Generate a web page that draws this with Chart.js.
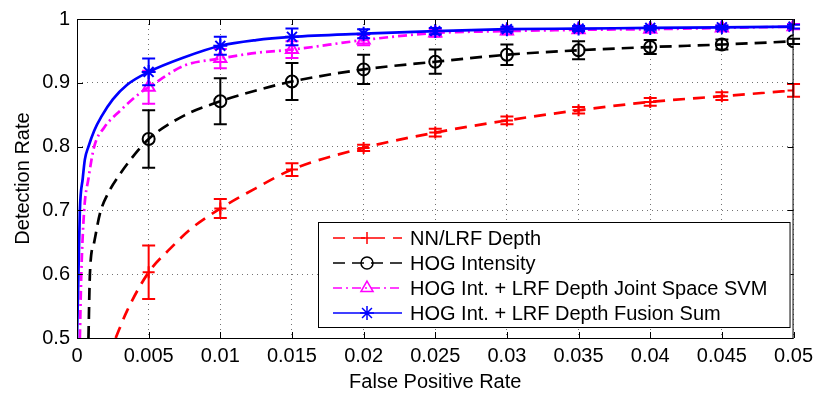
<!DOCTYPE html>
<html>
<head>
<meta charset="utf-8">
<script src="https://cdn.jsdelivr.net/npm/chart.js@4.4.0/dist/chart.umd.min.js"></script>
<style>
    html, body { margin: 0; padding: 0; background: #fff; }
    #wrap { width: 819px; height: 395px; }
</style>
</head>
<body>
<div id="wrap"><canvas id="rocChart"></canvas></div>
<script>
// axis ticks
var fprTicks = [0, 0.005, 0.01, 0.015, 0.02, 0.025, 0.03, 0.035, 0.04, 0.045, 0.05];
var fprTickLabels = ['0', '0.005', '0.01', '0.015', '0.02', '0.025', '0.03', '0.035', '0.04', '0.045', '0.05'];
var rateTicks = [0.5, 0.6, 0.7, 0.8, 0.9, 1];
var rateTickLabels = ['0.5', '0.6', '0.7', '0.8', '0.9', '1'];

var seriesNames = [
    'NN/LRF Depth',
    'HOG Intensity',
    'HOG Int. + LRF Depth Joint Space SVM',
    'HOG Int. + LRF Depth Fusion Sum'
];

// mean detection rate and error at the marked false positive rates
var markerFpr = [0.005, 0.01, 0.015, 0.02, 0.025, 0.03, 0.035, 0.04, 0.045, 0.05];
var nnMean  = [0.603, 0.703, 0.764, 0.798, 0.822, 0.841, 0.857, 0.870, 0.879, 0.888];
var nnErr   = [0.042, 0.015, 0.010, 0.005, 0.006, 0.006, 0.005, 0.006, 0.006, 0.010];
var hogMean = [0.812, 0.871, 0.902, 0.921, 0.933, 0.944, 0.951, 0.956, 0.960, 0.965];
var hogErr  = [0.045, 0.036, 0.029, 0.023, 0.019, 0.016, 0.014, 0.011, 0.008, 0.004];
var svmMean = [0.893, 0.938, 0.952, 0.967, 0.978, 0.981, 0.983, 0.984, 0.986, 0.988];
var svmErr  = [0.026, 0.015, 0.013, 0.008, 0.006, 0.005, 0.004, 0.004, 0.004, 0.004];
var sumMean = [0.917, 0.958, 0.972, 0.977, 0.981, 0.984, 0.985, 0.986, 0.987, 0.988];
var sumErr  = [0.021, 0.014, 0.013, 0.007, 0.005, 0.004, 0.004, 0.003, 0.003, 0.003];

// full ROC curves
var nnCurveFpr  = [0.0027, 0.0035, 0.005, 0.0065, 0.008, 0.01, 0.0125, 0.015, 0.02, 0.025, 0.03, 0.035, 0.04, 0.045, 0.05];
var nnCurveRate = [0.5, 0.543, 0.603, 0.640, 0.672, 0.703, 0.735, 0.764, 0.798, 0.822, 0.841, 0.857, 0.870, 0.879, 0.888];
var hogCurveFpr  = [0.0008, 0.0009, 0.0012, 0.0016, 0.0022, 0.003, 0.004, 0.005, 0.0075, 0.01, 0.0125, 0.015, 0.02, 0.025, 0.03, 0.035, 0.04, 0.045, 0.05];
var hogCurveRate = [0.5, 0.6, 0.65, 0.695, 0.728, 0.757, 0.787, 0.812, 0.849, 0.871, 0.888, 0.902, 0.921, 0.933, 0.944, 0.951, 0.956, 0.960, 0.965];
var svmCurveFpr  = [0.0002, 0.0003, 0.0005, 0.0008, 0.0012, 0.0019, 0.003, 0.0044, 0.005, 0.0075, 0.01, 0.0125, 0.015, 0.02, 0.025, 0.03, 0.035, 0.04, 0.045, 0.05];
var svmCurveRate = [0.5, 0.6, 0.7, 0.75, 0.8, 0.83, 0.856, 0.884, 0.893, 0.927, 0.938, 0.947, 0.952, 0.967, 0.978, 0.981, 0.983, 0.984, 0.986, 0.988];
var sumCurveFpr  = [0, 0.0001, 0.0002, 0.0004, 0.00055, 0.0008, 0.0012, 0.0017, 0.0025, 0.0035, 0.005, 0.0075, 0.01, 0.0125, 0.015, 0.02, 0.025, 0.03, 0.035, 0.04, 0.045, 0.05];
var sumCurveRate = [0.5, 0.6, 0.7, 0.75, 0.78, 0.8, 0.825, 0.847, 0.874, 0.897, 0.917, 0.940, 0.958, 0.967, 0.972, 0.977, 0.981, 0.984, 0.985, 0.986, 0.987, 0.988];

var FONT = "'Liberation Sans', Arial, sans-serif";

function toPoints(xs, ys) {
    return xs.map(function (x, i) { return {x: x, y: ys[i]}; });
}

function curve(label, xs, ys, color, dash, order) {
    return {
        label: label,
        data: toPoints(xs, ys),
        showLine: true,
        borderColor: color,
        borderWidth: 2.7,
        borderDash: dash,
        cubicInterpolationMode: 'monotone',
        pointRadius: 0,
        fill: false,
        order: order
    };
}

function markers(label, means, errs, color, style, radius, order) {
    return {
        label: label,
        data: toPoints(markerFpr, means),
        errors: errs,
        showLine: false,
        pointStyle: style,
        pointRadius: radius,
        pointBorderWidth: 2,
        borderColor: color,
        backgroundColor: 'rgba(0,0,0,0)',
        order: order
    };
}

var datasets = [
    curve(seriesNames[0], nnCurveFpr, nnCurveRate, '#ff0000', [12, 8], 8),
    markers(seriesNames[0], nnMean, nnErr, '#ff0000', 'cross', 6, 7),
    curve(seriesNames[1], hogCurveFpr, hogCurveRate, '#000000', [12, 7], 6),
    markers(seriesNames[1], hogMean, hogErr, '#000000', 'circle', 6, 5),
    curve(seriesNames[2], svmCurveFpr, svmCurveRate, '#ff00ff', [9, 4, 2, 4], 4),
    markers(seriesNames[2], svmMean, svmErr, '#ff00ff', 'triangle', 7, 3),
    curve(seriesNames[3], sumCurveFpr, sumCurveRate, '#0000ff', [], 2),
    markers(seriesNames[3], sumMean, sumErr, '#0000ff', 'star', 7, 1)
];

// vertical error bars with caps
var errorBars = {
    id: 'errorBars',
    afterDatasetDraw: function (chart, args) {
        var ds = chart.data.datasets[args.index];
        if (!ds.errors) return;
        var ctx = chart.ctx;
        var xs = chart.scales.x, ys = chart.scales.y;
        ctx.save();
        ctx.strokeStyle = ds.borderColor;
        ctx.lineWidth = 2;
        ds.data.forEach(function (p, i) {
            var x = xs.getPixelForValue(p.x);
            var y1 = ys.getPixelForValue(p.y + ds.errors[i]);
            var y2 = ys.getPixelForValue(p.y - ds.errors[i]);
            ctx.beginPath();
            ctx.moveTo(x, y1); ctx.lineTo(x, y2);
            ctx.moveTo(x - 6.5, y1); ctx.lineTo(x + 6.5, y1);
            ctx.moveTo(x - 6.5, y2); ctx.lineTo(x + 6.5, y2);
            ctx.stroke();
        });
        ctx.restore();
    }
};

function drawMarker(ctx, ds, x, y) {
    if (Chart.helpers && Chart.helpers.drawPoint) {
        ctx.strokeStyle = ds.borderColor;
        ctx.fillStyle = 'rgba(0,0,0,0)';
        ctx.lineWidth = ds.pointBorderWidth;
        ctx.setLineDash([]);
        Chart.helpers.drawPoint(ctx, {pointStyle: ds.pointStyle, radius: ds.pointRadius, rotation: 0, borderWidth: ds.pointBorderWidth}, x, y);
    }
}

// box frame, inner ticks and legend
var frameAndLegend = {
    id: 'frameAndLegend',
    afterDraw: function (chart) {
        var ctx = chart.ctx, a = chart.chartArea;
        var xs = chart.scales.x, ys = chart.scales.y;
        ctx.save();
        ctx.strokeStyle = '#000';
        ctx.lineWidth = 1;
        ctx.strokeRect(a.left + 0.5, a.top + 0.5, a.right - a.left - 1, a.bottom - a.top);
        ctx.beginPath();
        fprTicks.forEach(function (v) {
            var x = Math.round(xs.getPixelForValue(v)) + 0.5;
            ctx.moveTo(x, a.bottom); ctx.lineTo(x, a.bottom - 6);
            ctx.moveTo(x, a.top); ctx.lineTo(x, a.top + 6);
        });
        rateTicks.forEach(function (v) {
            var y = Math.round(ys.getPixelForValue(v)) + 0.5;
            ctx.moveTo(a.left, y); ctx.lineTo(a.left + 6, y);
            ctx.moveTo(a.right, y); ctx.lineTo(a.right - 6, y);
        });
        ctx.stroke();

        // legend
        var boxL = a.left + 241, boxR = a.right - 3, boxB = a.bottom - 10, boxT = boxB - 106;
        ctx.fillStyle = '#fff';
        ctx.fillRect(boxL, boxT, boxR - boxL, boxB - boxT);
        ctx.strokeRect(boxL + 0.5, boxT + 0.5, boxR - boxL - 1, boxB - boxT - 1);
        ctx.font = '20px ' + FONT;
        ctx.textBaseline = 'middle';
        ctx.textAlign = 'left';
        for (var i = 0; i < seriesNames.length; i++) {
            var line = chart.data.datasets[i * 2], mk = chart.data.datasets[i * 2 + 1];
            var y = boxT + 16 + i * 25;
            ctx.strokeStyle = line.borderColor;
            ctx.lineWidth = 1.5;
            ctx.setLineDash(line.borderDash.length ? line.borderDash : []);
            ctx.beginPath();
            ctx.moveTo(boxL + 15, y); ctx.lineTo(boxL + 84, y);
            ctx.stroke();
            drawMarker(ctx, {borderColor: mk.borderColor, pointStyle: mk.pointStyle, pointRadius: mk.pointRadius, pointBorderWidth: 1.5}, boxL + 49, y);
            ctx.fillStyle = '#000';
            ctx.fillText(seriesNames[i], boxL + 92, y + 1);
        }
        ctx.restore();
    }
};

var ctx = document.getElementById('rocChart');

var config = {
    type: 'scatter',
    data: { datasets: datasets },
    options: {
        responsive: true,
        maintainAspectRatio: false,
        animation: false,
        layout: { padding: { left: 0, right: 22, top: 16, bottom: 0 } },
        plugins: {
            legend: { display: false },
            tooltip: { enabled: false }
        },
        scales: {
            x: {
                type: 'linear',
                min: 0,
                max: 0.05,
                afterBuildTicks: function (axis) {
                    axis.ticks = fprTicks.map(function (v) { return {value: v}; });
                },
                afterFit: function (axis) { axis.height = 57; },
                ticks: {
                    autoSkip: false,
                    maxRotation: 0,
                    padding: 6,
                    color: '#000',
                    font: { family: FONT, size: 20 },
                    callback: function (v, i) { return fprTickLabels[i]; }
                },
                grid: { color: 'rgba(0,0,0,0.55)', lineWidth: 1, drawTicks: false },
                border: { display: false, dash: [1, 4] },
                title: {
                    display: true,
                    text: 'False Positive Rate',
                    color: '#000',
                    font: { family: FONT, size: 20, lineHeight: 1.2 },
                    padding: { top: 0, bottom: 1 }
                }
            },
            y: {
                type: 'linear',
                min: 0.5,
                max: 1,
                afterBuildTicks: function (axis) {
                    axis.ticks = rateTicks.map(function (v) { return {value: v}; });
                },
                afterFit: function (axis) { axis.width = 77; },
                ticks: {
                    padding: 7,
                    color: '#000',
                    font: { family: FONT, size: 20 },
                    callback: function (v, i) { return rateTickLabels[i]; }
                },
                grid: { color: 'rgba(0,0,0,0.55)', lineWidth: 1, drawTicks: false },
                border: { display: false, dash: [1, 4] },
                title: {
                    display: true,
                    text: 'Detection Rate',
                    color: '#000',
                    font: { family: FONT, size: 20, lineHeight: 1.2 },
                    padding: { top: 11, bottom: 0 }
                }
            }
        }
    },
    plugins: [errorBars, frameAndLegend]
};

var rocChart = new Chart(ctx, config);
</script>
</body>
</html>
